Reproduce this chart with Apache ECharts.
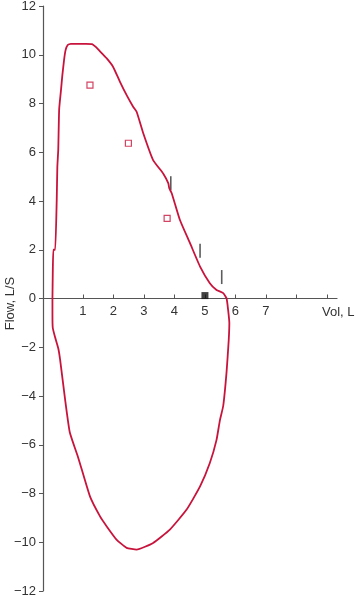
<!DOCTYPE html>
<html>
<head>
<meta charset="utf-8">
<script src="https://cdn.jsdelivr.net/npm/echarts@6/dist/echarts.min.js"></script>
<style>
html,body{margin:0;padding:0;background:#fff;}
#c{width:359px;height:596px;}
</style>
</head>
<body>
<div id="c"></div>
<script>
// Flow-volume loop (volume L, flow L/s)
var loopVol = [0, 0.01, 0.03, 0.09, 0.14, 0.16, 0.19, 0.22, 0.28, 0.32, 0.38, 0.43, 0.5, 0.6, 0.8, 1.1, 1.3, 1.42, 1.55, 1.78, 1.99, 2.21, 2.45, 2.65, 2.76, 2.98, 3.3, 3.63, 3.8, 3.83, 3.91, 4.18, 4.51, 4.84, 5.16, 5.38, 5.6, 5.71,
  5.76, 5.8, 5.78, 5.71, 5.6, 5.49, 5.38, 5.16, 4.84, 4.4, 3.85, 3.3, 2.76, 2.43, 2.1, 1.78, 1.56, 1.23, 0.85, 0.57, 0.41, 0.25, 0.19, 0.08, 0.01, 0, 0];
var loopFlow = [0, 1.0, 2.0, 2.0, 4.04, 5.4, 6.1, 7.76, 8.55, 9.1, 9.78, 10.19, 10.4, 10.45, 10.45, 10.45, 10.44, 10.32, 10.15, 9.85, 9.5, 8.9, 8.3, 7.86, 7.66, 6.77, 5.68, 5.13, 4.72, 4.52, 4.32, 3.22, 2.27, 1.31, 0.63, 0.35, 0.22, 0,
  -0.47, -1.01, -1.7, -3.0, -4.4, -5.0, -5.8, -6.75, -7.71, -8.66, -9.48, -10.03, -10.3, -10.23, -9.89, -9.35, -8.94, -8.12, -6.55, -5.5, -4.1, -2.5, -2.04, -1.56, -1.2, -0.6, 0];
// predicted values (open squares)
var predVol = [1.23, 2.49, 3.76];
var predFlow = [8.75, 6.37, 3.29];
// marker bars
var barVol = [3.88, 4.84, 5.55];
var barFlow = [4.73, 1.96, 0.88];
// filled square
var pointVol = [5.0];
var pointFlow = [0.12];
var yTicks = [-12, -10, -8, -6, -4, -2, 0, 2, 4, 6, 8, 10, 12];
var xLabels = [1, 2, 3, 4, 5, 6, 7];
var xTicks = [1, 2, 3, 4, 5, 6, 7, 8, 9];

var crimson = '#c8143c';
function pairs(a, b) { return a.map(function (v, i) { return [v, b[i]]; }); }

var chart = echarts.init(document.getElementById('c'), null, {renderer: 'canvas'});
chart.setOption({
  animation: false,
  backgroundColor: '#fff',
  grid: {left: 43, right: 22, top: 6, bottom: 5, containLabel: false, outerBoundsMode: 'none'},
  xAxis: {
    type: 'value', min: -0.31, max: 9.33,
    position: 'bottom', offset: -292.5,
    splitLine: {show: false},
    axisLine: {onZero: false, lineStyle: {color: '#555', width: 1.2}},
    axisTick: {show: true, inside: true, length: 4, customValues: xTicks, lineStyle: {color: '#555', width: 1}},
    axisLabel: {customValues: xLabels, margin: 6, fontSize: 13, color: '#333', fontFamily: 'Liberation Sans'},
    name: 'Vol, L', nameLocation: 'end', nameGap: -15, nameMoveOverlap: false,
    nameTextStyle: {fontSize: 13, color: '#333', fontFamily: 'Liberation Sans', align: 'left', verticalAlign: 'top', padding: [7, 0, 0, 0]}
  },
  yAxis: {
    type: 'value', min: -12, max: 12, interval: 2,
    splitLine: {show: false},
    axisLine: {onZero: false, lineStyle: {color: '#555', width: 1.2}},
    axisTick: {show: true, length: 4, lineStyle: {color: '#555', width: 1}},
    axisLabel: {margin: 7, fontSize: 13, color: '#333', fontFamily: 'Liberation Sans',
      formatter: function (v) { return String(v).replace('-', '\u2212'); }},
    name: 'Flow, L/S', nameLocation: 'middle', nameGap: 26, nameRotate: 90, nameMoveOverlap: false,
    nameTextStyle: {fontSize: 13, color: '#333', fontFamily: 'Liberation Sans', padding: [0, 10, 0, 0]}
  },
  series: [
    {type: 'line', data: pairs(loopVol, loopFlow), smooth: 0.15, showSymbol: false,
      lineStyle: {color: crimson, width: 1.8}},
    {type: 'scatter', data: pairs(predVol, predFlow), symbol: 'rect', symbolSize: 6,
      itemStyle: {color: '#fff', borderColor: crimson, borderWidth: 1.2}},
    {type: 'scatter', data: pairs(barVol, barFlow), symbol: 'rect', symbolSize: [1.6, 14],
      itemStyle: {color: '#333'}},
    {type: 'scatter', data: pairs(pointVol, pointFlow), symbol: 'rect', symbolSize: 7,
      itemStyle: {color: '#111'}}
  ]
});
</script>
</body>
</html>
